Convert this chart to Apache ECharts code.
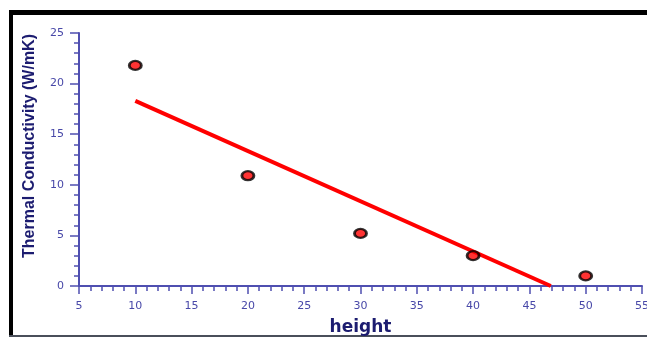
<!DOCTYPE html>
<html>
<head>
<meta charset="utf-8">
<script src="https://cdn.jsdelivr.net/npm/echarts@6/dist/echarts.min.js"></script>
<style>
  html, body { margin: 0; padding: 0; background: #ffffff; overflow: hidden; }
  #chart { width: 647px; height: 339px; }
</style>
</head>
<body>
<div id="chart"></div>
<script>
// Measured samples: height vs thermal conductivity
const heights = [10, 20, 30, 40, 50];
const conductivity = [21.8, 10.9, 5.2, 3.0, 1.0];

// Linear fit endpoints (height, conductivity)
const fitX = [10, 46.9];
const fitY = [18.3, 0];

const xTitle = 'height';
const yTitle = 'Thermal Conductivity (W/mK)';

const axisBlue = '#4f4fb0';
const labelBlue = '#4848a8';
const titleNavy = '#1c1c70';

const points = heights.map((h, i) => [h, conductivity[i]]);
const fitLine = fitX.map((x, i) => [x, fitY[i]]);

const chart = echarts.init(document.getElementById('chart'), null, { renderer: 'canvas' });

chart.setOption({
  animation: false,
  backgroundColor: '#ffffff',
  grid: { left: 79, right: 5, top: 33, bottom: 53, containLabel: false, outerBoundsMode: 'none' },
  graphic: [
    // frame around the plot area
    { type: 'rect', shape: { x: 9, y: 10, width: 4, height: 327 }, style: { fill: '#000000' }, silent: true },
    { type: 'rect', shape: { x: 9, y: 10, width: 640, height: 5 }, style: { fill: '#000000' }, silent: true },
    { type: 'rect', shape: { x: 9, y: 335, width: 640, height: 2 }, style: { fill: '#4a4f5a' }, silent: true },
    // y-axis title, placed by hand slightly above the plot middle
    {
      type: 'text',
      x: 30, y: 146,
      rotation: Math.PI / 2,
      style: {
        text: yTitle,
        fill: titleNavy,
        font: 'bold 16px "Liberation Sans Narrow", "Liberation Sans", sans-serif',
        align: 'center',
        verticalAlign: 'middle'
      },
      silent: true
    }
  ],
  xAxis: {
    type: 'value',
    min: 5, max: 55, interval: 5,
    name: xTitle,
    nameLocation: 'middle',
    nameGap: 33,
    nameTextStyle: { color: titleNavy, fontSize: 17, fontWeight: 'bold', fontFamily: 'DejaVu Sans' },
    axisLine: { show: true, onZero: false, lineStyle: { color: axisBlue, width: 2 } },
    axisTick: { show: true, inside: false, length: 8, lineStyle: { color: axisBlue, width: 1.5 } },
    minorTick: { show: true, splitNumber: 5, length: 5, lineStyle: { color: axisBlue, width: 1.5 } },
    axisLabel: { color: labelBlue, fontSize: 11, fontFamily: 'DejaVu Sans', margin: 15, hideOverlap: false },
    splitLine: { show: false }
  },
  yAxis: {
    type: 'value',
    min: 0, max: 25, interval: 5,
    axisLine: { show: true, onZero: false, lineStyle: { color: axisBlue, width: 2 } },
    axisTick: { show: true, inside: false, length: 9, lineStyle: { color: axisBlue, width: 1.5 } },
    minorTick: { show: true, splitNumber: 5, length: 5, lineStyle: { color: axisBlue, width: 1.5 } },
    axisLabel: { color: labelBlue, fontSize: 11, fontFamily: 'DejaVu Sans', margin: 15 },
    splitLine: { show: false }
  },
  series: [
    {
      type: 'line',
      data: fitLine,
      symbol: 'none',
      lineStyle: { color: '#ff0000', width: 4 },
      z: 2
    },
    {
      type: 'scatter',
      data: points,
      symbol: 'circle',
      symbolSize: [12, 9],
      itemStyle: { color: '#ff0000', borderColor: '#000000', borderWidth: 2.5 },
      z: 3
    }
  ]
});
</script>
</body>
</html>
